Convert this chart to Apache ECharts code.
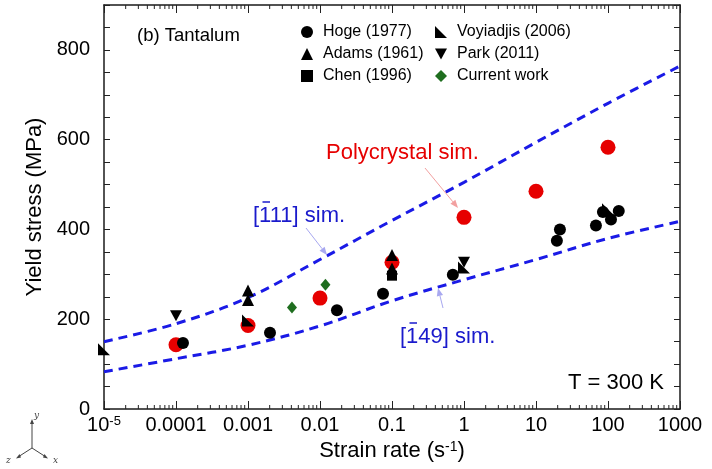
<!DOCTYPE html>
<html><head><meta charset="utf-8">
<script src="https://cdn.jsdelivr.net/npm/echarts@6/dist/echarts.min.js"></script>
<style>html,body{margin:0;padding:0;background:#fff}#c{width:712px;height:469px}</style>
</head><body><div id="c"></div>
<script>
// ---- data ----
const xTickLabels = ['10^-5', '0.0001', '0.001', '0.01', '0.1', '1', '10', '100', '1000'];
const yTickLabels = ['0', '200', '400', '600', '800'];

const polyX = [1e-4, 1e-3, 1e-2, 1e-1, 1, 10, 100];
const polyY = [143, 186, 247, 327, 427, 485, 583];

const hogeX = [1.25e-4, 2.02e-3, 0.0172, 0.075, 0.70, 19.5, 21.5, 68, 85, 110, 141];
const hogeY = [147, 170, 220, 257, 299, 375, 400, 409, 439, 422, 441];

const adamsX = [1e-3, 1e-3, 0.1, 0.1];
const adamsY = [264, 243, 343, 313];

const chenX = [0.1];
const chenY = [297];

const voyX = [1e-5, 1e-3, 1, 100];
const voyY = [133, 197, 315, 445];

const parkX = [1e-4, 1];
const parkY = [208, 327];

const curX = [0.00408, 0.0119];
const curY = [226, 277];

const rate111 = [1e-5, 1e-4, 1e-3, 1e-2, 1e-1, 1, 10, 100, 1000];
const sim111 = [150, 190, 248, 333, 420, 505, 594, 681, 764];
const rate149 = [1e-5, 1e-4, 1e-3, 1e-2, 1e-1, 1, 10, 100, 1000];
const sim149 = [83, 112, 142, 185, 241, 288, 333, 380, 418];

// ---- helpers ----
const zip = (xs, ys) => xs.map((x, i) => [x, ys[i]]);
const FONT = 'Liberation Sans, Arial, sans-serif';
const Y_MIN = 0, Y_MAX = 900, X_MIN = 1e-5, X_MAX = 1000;

const minorTicks = [];
for (let e = -5; e < 3; e++) for (let k = 2; k <= 9; k++) minorTicks.push([k * Math.pow(10, e), 0]);

function arrow(x1, y1, x2, y2, color) {
  const a = Math.atan2(y2 - y1, x2 - x1), L = 8, W = 3.2;
  const bx = x2 - L * Math.cos(a), by = y2 - L * Math.sin(a);
  return [
    { type: 'line', shape: { x1, y1, x2: bx, y2: by }, style: { stroke: color, lineWidth: 1 }, z: 50 },
    { type: 'polygon', shape: { points: [[x2, y2], [bx + W * Math.sin(a), by - W * Math.cos(a)], [bx - W * Math.sin(a), by + W * Math.cos(a)]] },
      style: { fill: color }, z: 50 }
  ];
}
function label(text, x, y, size, color) {
  return { type: 'text', x, y, z: 50, style: { text, font: size + 'px ' + FONT, fill: color, verticalAlign: 'middle', align: 'left' } };
}
function bar(x1, x2, y, color) {
  return { type: 'line', z: 50, shape: { x1, y1: y, x2, y2: y }, style: { stroke: color, lineWidth: 1.5 } };
}

const blue = '#1a1ae6';
const textBlue = '#1a1acc';
const axisCommon = {
  axisLine: { show: true, onZero: false, lineStyle: { color: '#1a1a1a', width: 1.5 } },
  axisTick: { show: true, inside: true, length: 8, lineStyle: { color: '#222', width: 1 } },
  splitLine: { show: false }
};

const chart = echarts.init(document.getElementById('c'), null, { renderer: 'canvas' });
chart.setOption({
  animation: false,
  backgroundColor: '#fff',
  textStyle: { fontFamily: FONT },
  grid: { left: 104, right: 32, top: 5, bottom: 60, containLabel: false },
  legend: [
    { left: 301, top: 23, orient: 'vertical', padding: 0, itemWidth: 12, itemHeight: 12, itemGap: 4,
      textStyle: { fontSize: 16, lineHeight: 18, color: '#000', fontFamily: FONT, padding: [0, 0, 0, 5] },
      data: [{ name: 'Hoge (1977)', icon: 'circle' }, { name: 'Adams (1961)', icon: 'triangle' }, { name: 'Chen (1996)', icon: 'rect' }] },
    { left: 435, top: 23, orient: 'vertical', padding: 0, itemWidth: 12, itemHeight: 12, itemGap: 4,
      textStyle: { fontSize: 16, lineHeight: 18, color: '#000', fontFamily: FONT, padding: [0, 0, 0, 5] },
      data: [{ name: 'Voyiadjis (2006)', icon: 'path://M0,0 L0,10 L10,10 Z' }, { name: 'Park (2011)', icon: 'path://M0,0 L10,0 L5,9 Z' }, { name: 'Current work', icon: 'diamond' }] }
  ],
  xAxis: [
    Object.assign({}, axisCommon, {
      type: 'log', logBase: 10, min: X_MIN, max: X_MAX, splitNumber: 8, position: 'bottom',
      name: 'Strain rate (s{sup|-1})', nameLocation: 'middle', nameGap: 30,
      nameTextStyle: { fontSize: 22, color: '#000', fontFamily: FONT, rich: { sup: { fontSize: 14, verticalAlign: 'top', fontFamily: FONT, color: '#000' } } },
      axisLabel: {
        margin: 6, color: '#000', fontSize: 20, fontFamily: FONT,
        formatter: v => {
          const i = Math.round(Math.log10(v)) + 5;
          const t = xTickLabels[i] || '';
          if (t.indexOf('^') >= 0) { const p = t.split('^'); return '{b|' + p[0] + '}{s|' + p[1] + '}'; }
          return t;
        },
        rich: { b: { fontSize: 20, fontFamily: FONT, color: '#000' }, s: { fontSize: 13, verticalAlign: 'top', fontFamily: FONT, color: '#000' } }
      }
    }),
    Object.assign({}, axisCommon, {
      type: 'log', logBase: 10, min: X_MIN, max: X_MAX, splitNumber: 8, position: 'top', axisLabel: { show: false }
    })
  ],
  yAxis: [
    Object.assign({}, axisCommon, {
      type: 'value', min: Y_MIN, max: Y_MAX, interval: 50, position: 'left',
      axisTick: { show: true, inside: true, length: 6, lineStyle: { color: '#222', width: 1 } },
      name: 'Yield stress (MPa)', nameLocation: 'middle', nameGap: 58, nameRotate: 90,
      nameTextStyle: { fontSize: 22, color: '#000', fontFamily: FONT },
      axisLabel: { margin: 14, color: '#000', fontSize: 20, fontFamily: FONT,
        formatter: v => (yTickLabels.indexOf(String(v)) >= 0 ? String(v) : '') }
    }),
    Object.assign({}, axisCommon, {
      type: 'value', min: Y_MIN, max: Y_MAX, interval: 50, position: 'right',
      axisTick: { show: true, inside: true, length: 6, lineStyle: { color: '#222', width: 1 } },
      axisLabel: { show: false }
    })
  ],
  series: [
    { type: 'custom', name: 'minor', silent: true, clip: false, xAxisIndex: 0, yAxisIndex: 0,
      data: minorTicks, encode: { x: 0, y: 1 },
      renderItem: (params, api) => {
        const v = api.value(0);
        const b = api.coord([v, Y_MIN]), t = api.coord([v, Y_MAX]);
        return { type: 'group', children: [
          { type: 'line', shape: { x1: b[0], y1: b[1], x2: b[0], y2: b[1] - 4 }, style: { stroke: '#222', lineWidth: 1 } },
          { type: 'line', shape: { x1: t[0], y1: t[1], x2: t[0], y2: t[1] + 4 }, style: { stroke: '#222', lineWidth: 1 } }
        ] };
      } },
    { type: 'line', name: '[-111] sim.', data: zip(rate111, sim111), smooth: 0.35, showSymbol: false, symbol: 'none',
      lineStyle: { color: blue, width: 3, type: [9, 6] }, z: 2 },
    { type: 'line', name: '[-149] sim.', data: zip(rate149, sim149), smooth: 0.35, showSymbol: false, symbol: 'none',
      lineStyle: { color: blue, width: 3, type: [9, 6] }, z: 2 },
    { type: 'scatter', name: 'Polycrystal sim.', data: zip(polyX, polyY), symbol: 'circle', symbolSize: 15,
      itemStyle: { color: '#e60000', opacity: 1 }, z: 3 },
    { type: 'scatter', name: 'Hoge (1977)', data: zip(hogeX, hogeY), symbol: 'circle', symbolSize: 12,
      itemStyle: { color: '#000', opacity: 1 }, z: 4 },
    { type: 'scatter', name: 'Adams (1961)', data: zip(adamsX, adamsY), symbol: 'triangle', symbolSize: 12,
      itemStyle: { color: '#000', opacity: 1 }, z: 4 },
    { type: 'scatter', name: 'Chen (1996)', data: zip(chenX, chenY), symbol: 'rect', symbolSize: 10,
      itemStyle: { color: '#000', opacity: 1 }, z: 4 },
    { type: 'scatter', name: 'Voyiadjis (2006)', data: zip(voyX, voyY), symbol: 'path://M0,0 L0,10 L10,10 Z', symbolSize: 12,
      itemStyle: { color: '#000', opacity: 1 }, z: 4 },
    { type: 'scatter', name: 'Park (2011)', data: zip(parkX, parkY), symbol: 'path://M0,0 L10,0 L5,9 Z', symbolSize: [12, 11],
      itemStyle: { color: '#000', opacity: 1 }, z: 4 },
    { type: 'scatter', name: 'Current work', data: zip(curX, curY), symbol: 'diamond', symbolSize: [10, 12],
      itemStyle: { color: '#1f6e1f', opacity: 1 }, z: 4 }
  ],
  graphic: [].concat(
    [label('(b) Tantalum', 137, 36, 18.5, '#000'),
     label('Polycrystal sim.', 326, 153, 22, '#e60000'),
     label('[111] sim.', 253, 216, 22, textBlue),
     bar(262.5, 270, 202, textBlue),
     label('[149] sim.', 400, 337, 22, textBlue),
     bar(409.5, 417, 323, textBlue),
     label('T = 300 K', 568, 383, 22, '#000')],
    arrow(425, 168, 458, 208, '#f2a0a0'),
    arrow(306, 228, 327, 255, '#a8a8f0'),
    arrow(443, 308, 438, 288, '#a8a8f0'),
    [
      { type: 'line', shape: { x1: 32, y1: 448, x2: 32, y2: 421 }, style: { stroke: '#444', lineWidth: 1 } },
      { type: 'polygon', shape: { points: [[32, 419], [30, 424], [34, 424]] }, style: { fill: '#444' } },
      { type: 'line', shape: { x1: 32, y1: 448, x2: 18, y2: 457 }, style: { stroke: '#444', lineWidth: 1 } },
      { type: 'polygon', shape: { points: [[16, 458.5], [19.5, 454], [21, 457.5]] }, style: { fill: '#444' } },
      { type: 'line', shape: { x1: 32, y1: 448, x2: 46, y2: 457 }, style: { stroke: '#444', lineWidth: 1 } },
      { type: 'polygon', shape: { points: [[48, 458.5], [44.5, 454], [43, 457.5]] }, style: { fill: '#444' } },
      { type: 'text', x: 34, y: 416, style: { text: 'y', font: 'italic 9px DejaVu Serif, serif', fill: '#444', verticalAlign: 'middle' } },
      { type: 'text', x: 6, y: 461, style: { text: 'z', font: 'italic 9px DejaVu Serif, serif', fill: '#444', verticalAlign: 'middle' } },
      { type: 'text', x: 53, y: 461, style: { text: 'x', font: 'italic 9px DejaVu Serif, serif', fill: '#444', verticalAlign: 'middle' } }
    ]
  )
});
</script></body></html>
